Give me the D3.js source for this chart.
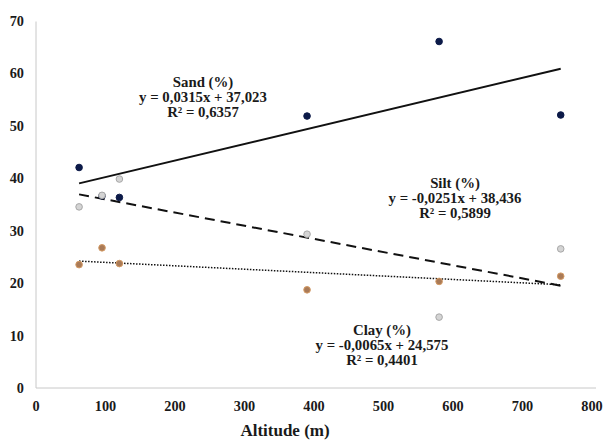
<!DOCTYPE html>
<html>
<head>
<meta charset="utf-8">
<script src="https://cdn.jsdelivr.net/npm/d3@7"></script>
<style>
  body { margin: 0; background: #fff; }
  text { font-family: "Liberation Serif", "Times New Roman", serif; font-weight: bold; fill: #1a1a1a; }
</style>
</head>
<body>
<svg id="chart" width="607" height="441"></svg>
<script>
var altitude = [62, 95, 120, 390, 580, 755]
var sand = [42, 36.6, 36.3, 51.8, 66, 52]
var silt = [34.5, 36.7, 39.8, 29.3, 13.5, 26.5]
var clay = [23.5, 26.7, 23.7, 18.7, 20.3, 21.3]

var xTicks = [0, 100, 200, 300, 400, 500, 600, 700, 800]
var yTicks = [0, 10, 20, 30, 40, 50, 60, 70]

// trendline coefficients as printed on the chart
var fits = [
  {name: 'Sand (%)', slope: 0.0315, icpt: 37.023, eq: 'y = 0,0315x + 37,023', r2: 'R² = 0,6357', dash: null, w: 2, lx: 203, ly: 82},
  {name: 'Silt (%)', slope: -0.0251, icpt: 38.436, eq: 'y = -0,0251x + 38,436', r2: 'R² = 0,5899', dash: '10,6', w: 2, lx: 455, ly: 183},
  {name: 'Clay (%)', slope: -0.0065, icpt: 24.575, eq: 'y = -0,0065x + 24,575', r2: 'R² = 0,4401', dash: '1.5,1.5', w: 1.5, lx: 382, ly: 330}
]

var svg = d3.select('#chart')

var x = d3.scaleLinear().domain([0, 800]).range([36, 592])
var y = d3.scaleLinear().domain([0, 70]).range([388, 20.5])

// axis lines
svg.append('line')
  .attr('x1', x(0)).attr('x2', 596)
  .attr('y1', y(0)).attr('y2', y(0))
  .attr('stroke', '#c8c8c8').attr('stroke-width', 1)
svg.append('line')
  .attr('x1', x(0)).attr('x2', x(0))
  .attr('y1', y(0)).attr('y2', y(70) + 1)
  .attr('stroke', '#c8c8c8').attr('stroke-width', 1)

svg.selectAll('.xt').data(xTicks).enter()
  .append('text')
  .attr('class', 'xt')
  .attr('x', function (d) { return x(d) })
  .attr('y', 411)
  .attr('text-anchor', 'middle')
  .attr('font-size', 14.3)
  .text(function (d) { return d })

svg.selectAll('.yt').data(yTicks).enter()
  .append('text')
  .attr('class', 'yt')
  .attr('x', 24)
  .attr('y', function (d) { return y(d) + 5 })
  .attr('text-anchor', 'end')
  .attr('font-size', 14.3)
  .text(function (d) { return d })

svg.append('text')
  .attr('x', 285).attr('y', 436)
  .attr('text-anchor', 'middle')
  .attr('font-size', 17)
  .text('Altitude (m)')

// trendlines
var x0 = d3.min(altitude), x1 = d3.max(altitude)
svg.selectAll('.fit').data(fits).enter()
  .append('line')
  .attr('class', 'fit')
  .attr('x1', x(x0))
  .attr('x2', x(x1))
  .attr('y1', function (d) { return y(d.slope * x0 + d.icpt) })
  .attr('y2', function (d) { return y(d.slope * x1 + d.icpt) })
  .attr('stroke', '#111')
  .attr('stroke-width', function (d) { return d.w })
  .attr('stroke-dasharray', function (d) { return d.dash })

// points
var series = [
  {vals: sand, fill: '#0c1a48', stroke: '#0c1a48'},
  {vals: clay, fill: '#a97a57', stroke: '#d49a63'},
  {vals: silt, fill: '#d4d4d4', stroke: '#a8a8a8'}
]
series.forEach(function (s) {
  svg.append('g').selectAll('circle')
    .data(s.vals)
    .enter()
    .append('circle')
    .attr('cx', function (d, i) { return x(altitude[i]) })
    .attr('cy', function (d) { return y(d) })
    .attr('r', 3.3)
    .attr('fill', s.fill)
    .attr('stroke', s.stroke)
    .attr('stroke-width', 1)
})

// labels
var lab = svg.selectAll('.lab').data(fits).enter()
  .append('text')
  .attr('class', 'lab')
  .attr('text-anchor', 'middle')
  .attr('font-size', 14.8)
lab.append('tspan')
  .attr('x', function (d) { return d.lx })
  .attr('y', function (d) { return d.ly + 5 })
  .text(function (d) { return d.name })
lab.append('tspan')
  .attr('x', function (d) { return d.lx })
  .attr('y', function (d) { return d.ly + 20 })
  .text(function (d) { return d.eq })
lab.append('tspan')
  .attr('x', function (d) { return d.lx })
  .attr('y', function (d) { return d.ly + 35 })
  .text(function (d) { return d.r2 })
</script>
</body>
</html>
